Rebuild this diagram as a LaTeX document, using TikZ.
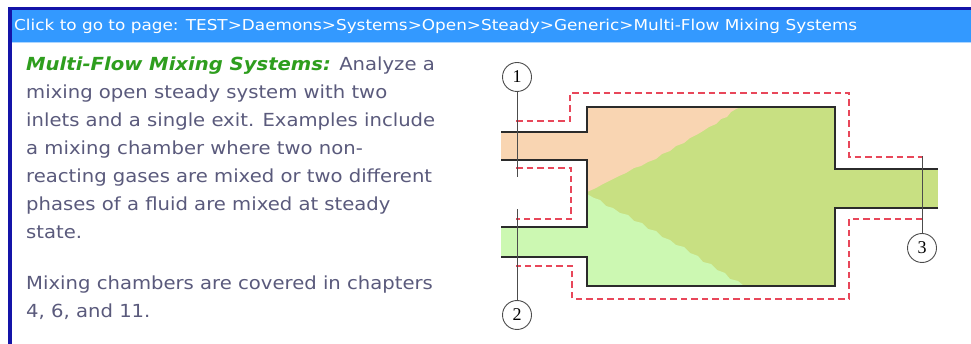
\documentclass[tikz,border=0pt]{standalone}
\usepackage{fontspec}
\usepackage{graphicx}
\setmainfont{DejaVu Sans}
\newfontfamily\numfont{Liberation Serif}
\usetikzlibrary{calc}
\definecolor{barblue}{HTML}{3399FF}
\definecolor{navy}{HTML}{1414A8}
\definecolor{bodytext}{HTML}{5A5A7C}
\definecolor{titlegreen}{HTML}{2E9E1E}
\definecolor{peach}{HTML}{F9D5B2}
\definecolor{mixgreen}{HTML}{C8E082}
\definecolor{lightgreen}{HTML}{CCF8B2}
\definecolor{wallgray}{HTML}{2B2B2B}
\definecolor{cvred}{HTML}{E8475A}
% body text is set a little wide, as on the web page
\newcommand{\widetext}[1]{\scalebox{1.09}[1]{#1}}
\tikzset{
  bodyline/.style={anchor=base west, inner sep=0pt, text=bodytext,
    font=\fontsize{18}{18}\selectfont},
  wall/.style={draw=wallgray, line width=2.8pt, line join=miter},
  cvline/.style={draw=cvred, line width=1.9pt, dash pattern=on 6.5pt off 4pt},
  stateline/.style={draw=black!70, line width=0.9pt},
  statecircle/.style={circle, draw=black!70, line width=0.9pt, minimum size=29pt,
    inner sep=0pt, font=\numfont\fontsize{18}{18}\selectfont}
}
\begin{document}
\begin{tikzpicture}[x=1pt,y=-1pt]
\useasboundingbox (0,0) rectangle (971,344);
\fill[white] (0,0) rectangle (971,344);
% page frame and header bar
\fill[barblue] (8,9) rectangle (971,42);
\fill[navy] (8,7) rectangle (971,10);
\fill[navy] (8,7) rectangle (12,344);
\fill[barblue!40] (12,42) rectangle (971,43.5);
\node[anchor=base west, inner sep=0pt, text=white,
  font=\fontsize{15}{15}\selectfont] (crumb) at (14,31)
  {\scalebox{1.125}[1]{Click to go to page: TEST>Daemons>Systems>Open>Steady>Generic>Multi-Flow Mixing Systems}};
% description text
\node[bodyline] (l1) at (26,71) {\widetext{\textcolor{titlegreen}{\bfseries\itshape Multi-Flow Mixing Systems:} Analyze a}};
\node[bodyline] (l2) at (26,99) {\widetext{mixing open steady system with two}};
\node[bodyline] (l3) at (26,127) {\widetext{inlets and a single exit. Examples include}};
\node[bodyline] (l4) at (26,155) {\widetext{a mixing chamber where two non-}};
\node[bodyline] (l5) at (26,183) {\widetext{reacting gases are mixed or two different}};
\node[bodyline] (l6) at (26,211) {\widetext{phases of a fluid are mixed at steady}};
\node[bodyline] (l7) at (26,239) {\widetext{state.}};
\node[bodyline] (l8) at (26,290) {\widetext{Mixing chambers are covered in chapters}};
\node[bodyline] (l9) at (26,318) {\widetext{4, 6, and 11.}};
% mixing chamber: fluid regions
\fill[mixgreen] (587,107) rectangle (835,286);
\fill[mixgreen] (835,169) rectangle (938,208);
\fill[peach] (501,132) rectangle (588,160);
\fill[lightgreen] (501,227) rectangle (588,257);
\fill[peach] (587,107) -- (741,107) -- (736,109) -- (731,112) -- (727,117) -- (721,119)
  -- (716,124) -- (709,127) -- (703,131) -- (698,134) -- (690,138) -- (684,143)
  -- (676,146) -- (670,151) -- (662,154) -- (656,159) -- (648,162) -- (641,166)
  -- (634,168) -- (626,173) -- (619,176) -- (611,180) -- (603,184) -- (596,188)
  -- (587,192) -- cycle;
\fill[lightgreen] (587,194) -- (594,198) -- (600,200) -- (606,206) -- (613,208)
  -- (620,213) -- (628,215) -- (634,221) -- (642,223) -- (648,229) -- (656,231)
  -- (662,237) -- (670,240) -- (676,245) -- (684,247) -- (690,253) -- (698,256)
  -- (703,262) -- (711,264) -- (717,270) -- (725,273) -- (730,279) -- (738,281)
  -- (744,286) -- (587,286) -- cycle;
% pipe and chamber walls
\draw[wall] (501,132) -- (587,132) -- (587,107) -- (835,107) -- (835,169) -- (938,169);
\draw[wall] (938,208) -- (835,208) -- (835,286) -- (587,286) -- (587,257) -- (501,257);
\draw[wall] (501,160) -- (587,160) -- (587,227) -- (501,227);
% control volume boundary
\draw[cvline] (516,121) -- (570,121) -- (570,93) -- (849,93) -- (849,157) -- (922,157);
\draw[cvline] (922,219) -- (849,219) -- (849,299) -- (572,299) -- (572,266) -- (516,266);
\draw[cvline] (516,168) -- (571,168) -- (571,219) -- (516,219);
% state labels
\node[statecircle] (s1) at (517,77) {1};
\node[statecircle] (s2) at (517,315) {2};
\node[statecircle] (s3) at (922,248) {3};
\coordinate (s1end) at (517,177);
\coordinate (s2end) at (517,209);
\coordinate (s3end) at (922,156);
\draw[stateline] (s1) -- (s1end);
\draw[stateline] (s2) -- (s2end);
\draw[stateline] (s3) -- (s3end);
\end{tikzpicture}
\end{document}
